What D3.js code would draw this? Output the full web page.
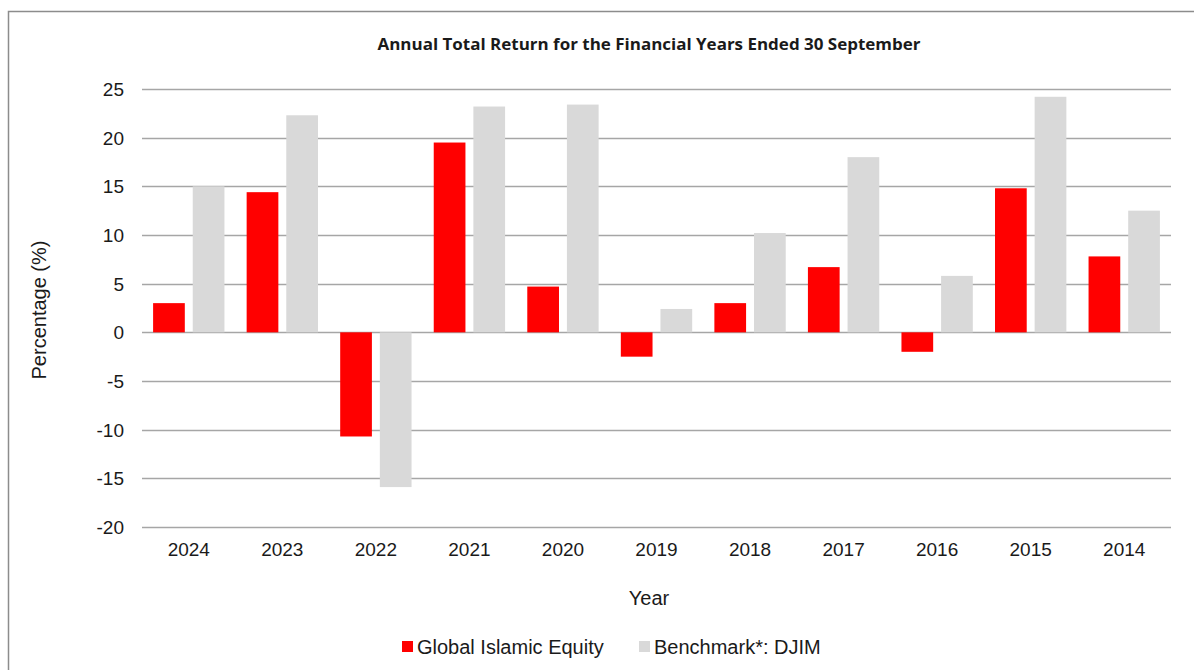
<!DOCTYPE html>
<html>
<head>
<meta charset="utf-8">
<script src="https://cdn.jsdelivr.net/npm/d3@7"></script>
<style>
  body { margin: 0; background: #fff; }
  text { font-family: "Liberation Sans", Arial, sans-serif; fill: #1a1a1a; }
</style>
</head>
<body>
<div id="viz"></div>
<script>
const years = ["2024", "2023", "2022", "2021", "2020", "2019", "2018", "2017", "2016", "2015", "2014"];
const fundReturns = [3.0, 14.4, -10.7, 19.5, 4.7, -2.5, 3.0, 6.7, -2.0, 14.8, 7.8];
const benchReturns = [15.0, 22.3, -15.9, 23.2, 23.4, 2.4, 10.2, 18.0, 5.8, 24.2, 12.5];
const yTicks = [25, 20, 15, 10, 5, 0, -5, -10, -15, -20];
const seriesNames = ["Global Islamic Equity", "Benchmark*: DJIM"];
const seriesColors = ["#ff0000", "#d9d9d9"];

const width = 1194, height = 670;
const margin = { left: 142, right: 23, top: 89, bottom: 143 };

const svg = d3.select("#viz").append("svg")
    .attr("width", width)
    .attr("height", height);

// outer chart border (runs off right and bottom)
svg.append("rect")
    .attr("x", 8.5).attr("y", 11.5)
    .attr("width", 1200).attr("height", 700)
    .attr("fill", "none")
    .attr("stroke", "#8c8c8c")
    .attr("stroke-width", 1.5);

const x = d3.scaleBand()
    .domain(years)
    .range([margin.left, width - margin.right])
    .paddingInner(0)
    .paddingOuter(0);

const y = d3.scaleLinear()
    .domain([-20, 25])
    .range([527, margin.top]);

const xSub = d3.scaleBand()
    .domain([0, 1])
    .range([0, x.bandwidth()])
    .paddingInner(0.2)
    .paddingOuter(0.28);

// gridlines
svg.selectAll(".grid")
    .data(yTicks)
    .join("line")
        .attr("class", "grid")
        .attr("x1", margin.left)
        .attr("x2", width - margin.right)
        .attr("y1", d => Math.round(y(d)) + 0.5)
        .attr("y2", d => Math.round(y(d)) + 0.5)
        .attr("stroke", "#a6a6a6")
        .attr("stroke-width", 1.5);

// y tick labels
svg.selectAll(".ytick")
    .data(yTicks)
    .join("text")
        .attr("class", "ytick")
        .attr("x", 124)
        .attr("y", d => y(d) + 7)
        .style("text-anchor", "end")
        .style("font-size", "19px")
        .text(d => d);

const rows = years.map((yr, i) => ({ year: yr, values: [fundReturns[i], benchReturns[i]] }));

const gYears = svg.selectAll(".year")
    .data(rows)
    .join("g")
        .attr("class", "year")
        .attr("transform", d => `translate(${x(d.year)},0)`);

gYears.selectAll("rect")
    .data(d => d.values.map((v, i) => ({ v, i })))
    .join("rect")
        .attr("x", d => xSub(d.i))
        .attr("width", xSub.bandwidth())
        .attr("y", d => y(Math.max(0, d.v)))
        .attr("height", d => Math.abs(y(d.v) - y(0)))
        .attr("fill", d => seriesColors[d.i]);

// x labels
svg.selectAll(".xtick")
    .data(years)
    .join("text")
        .attr("class", "xtick")
        .attr("x", d => x(d) + x.bandwidth() / 2)
        .attr("y", 556)
        .style("text-anchor", "middle")
        .style("font-size", "19px")
        .text(d => d);

// axis titles
svg.append("text")
    .attr("x", 649)
    .attr("y", 605)
    .style("text-anchor", "middle")
    .style("font-size", "20px")
    .text("Year");

svg.append("text")
    .attr("transform", "translate(46,310) rotate(-90)")
    .style("text-anchor", "middle")
    .style("font-size", "20px")
    .text("Percentage (%)");

// title
svg.append("text")
    .attr("x", 649)
    .attr("y", 50)
    .style("text-anchor", "middle")
    .style("font-size", "16px")
    .style("font-weight", 700)
    .style("font-family", "'Open Sans', sans-serif")
    .attr("textLength", 543)
    .attr("lengthAdjust", "spacingAndGlyphs")
    .text("Annual Total Return for the Financial Years Ended 30 September");

// legend
const legendX = [402, 639];
const gLegend = svg.selectAll(".legend")
    .data(seriesNames)
    .join("g")
        .attr("class", "legend")
        .attr("transform", (d, i) => `translate(${legendX[i]},641)`);

gLegend.append("rect")
    .attr("width", 11).attr("height", 11)
    .attr("fill", (d, i) => seriesColors[i]);

gLegend.append("text")
    .attr("x", 15)
    .attr("y", 13)
    .style("font-size", "20px")
    .text(d => d);
</script>
</body>
</html>
